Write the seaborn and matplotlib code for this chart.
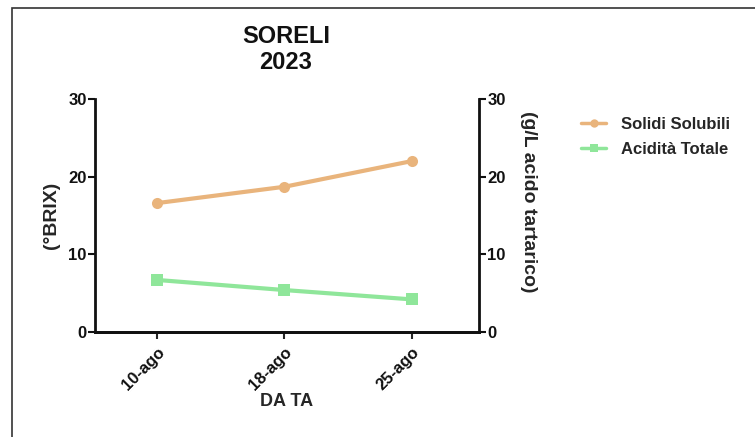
import matplotlib
matplotlib.use("Agg")
import matplotlib.pyplot as plt
import seaborn as sns
import pandas as pd
from matplotlib.lines import Line2D
from matplotlib.patches import Rectangle

# data
date_labels = ["10-ago", "18-ago", "25-ago"]
solidi_solubili = [16.6, 18.7, 22.0]
acidita_totale = [6.7, 5.4, 4.2]

orange = "#E9B47C"
green = "#8FE69A"

sns.set_theme(style="white")
plt.rcParams['font.family'] = ['Liberation Sans', 'DejaVu Sans']
plt.rcParams['font.weight'] = 'bold'

df = pd.DataFrame({"pos": range(len(date_labels)), "data": date_labels,
                   "brix": solidi_solubili, "acid": acidita_totale})

fig = plt.figure(figsize=(7.55, 4.37), dpi=100)
ax = fig.add_axes([95/755, 1-332/437, (479-95)/755, (332-99)/437])
ax2 = ax.twinx()

sns.lineplot(data=df, x="pos", y="brix", ax=ax, color=orange, lw=3,
             marker="o", markersize=8, markeredgewidth=0)
sns.lineplot(data=df, x="pos", y="acid", ax=ax2, color=green, lw=3,
             marker="s", markersize=8, markeredgewidth=0)

for a in (ax, ax2):
    a.set_ylim(0, 30)
    a.set_yticks([0, 10, 20, 30])
    a.tick_params(axis='y', length=5, width=1.5, labelsize=12, pad=1, colors='#111111')
    for s in a.spines.values():
        s.set_visible(False)
    a.spines['bottom'].set_visible(True)
    a.spines['bottom'].set_linewidth(2)
    a.spines['bottom'].set_color('#111111')

ax.spines['left'].set_visible(True)
ax.spines['left'].set_linewidth(2)
ax.spines['left'].set_color('#111111')
ax2.spines['right'].set_visible(True)
ax2.spines['right'].set_linewidth(2)
ax2.spines['right'].set_color('#111111')
ax.tick_params(axis='y', left=True)
ax2.tick_params(axis='y', right=True)

ax.set_xlim(-0.49, 2.53)
ax.set_xticks(df["pos"])
ax.set_xticklabels(date_labels, rotation=45, ha='right', rotation_mode='anchor',
                   fontsize=12, color='#111111')
ax.tick_params(axis='x', bottom=True, length=5, width=1.5, pad=4)
ax.set_xlabel("DA TA", fontsize=13, fontweight='bold', labelpad=0)
ax.set_ylabel("(°BRIX)", fontsize=14, fontweight='bold', labelpad=6)
ax2.set_ylabel("(g/L acido tartarico)", fontsize=14, fontweight='bold',
               rotation=270, labelpad=27)
ax2.yaxis.set_label_coords(1.15, 0.56)
fig.text(286/755, 1-25/437, "SORELI\n2023", fontsize=17, fontweight='bold',
         ha='center', va='top', linespacing=1.15, color='#111111')

handles = [Line2D([], [], color=orange, lw=2.5, marker="o", markersize=6, markeredgewidth=0),
           Line2D([], [], color=green, lw=2.5, marker="s", markersize=6, markeredgewidth=0)]
fig.legend(handles, ["Solidi Solubili", "Acidità Totale"], loc='upper left',
           bbox_to_anchor=(566/755, 1-102/437), frameon=False, fontsize=12,
           handlelength=1.5, handletextpad=0.9, labelspacing=0.6)

fig.patches.append(Rectangle((12/755, -0.1), 1, 1.1-8/437, transform=fig.transFigure,
                             fill=False, edgecolor='#333333', lw=1.2))

fig.savefig("out.png", dpi=100)
